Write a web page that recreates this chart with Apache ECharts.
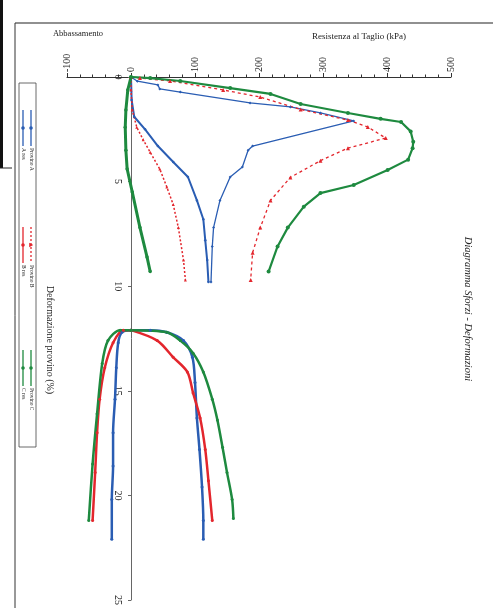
<!DOCTYPE html>
<html><head><meta charset="utf-8">
<script src="https://cdn.jsdelivr.net/npm/echarts@6/dist/echarts.min.js"></script>
<style>html,body{margin:0;padding:0;background:#fff}#c{width:493px;height:608px}</style>
</head><body><div id="c"></div><script>
// Each point: [Resistenza al Taglio (kPa), Deformazione provino (%)]
const provinoA_picco = [[0,0],[10,0.2],[42,0.38],[45,0.57],[77,0.72],[186,1.24],[249,1.43],[296,1.72],[348,2.1],[190,3.3],[183,3.5],[174,4.3],[155,4.78],[139,5.9],[129,7.2],[127,8.1],[125,9.8]];
const provinoA_interno = [[0,0],[1,1.1],[5,1.9],[22,2.5],[42,3.3],[66,4.06],[89,4.78],[103,5.9],[113,6.8],[116,7.8],[119,8.75],[121,9.8]];
const provinoB_picco = [[0,0],[14,0.05],[61,0.19],[144,0.62],[202,0.96],[265,1.55],[339,2.06],[370,2.39],[398,2.92],[339,3.4],[296,4.0],[249,4.8],[218,5.9],[202,7.2],[190,8.4],[187,9.7]];
const provinoB_interno = [[0,0],[0,0.62],[2,1.58],[9,2.4],[19,3.0],[30,3.6],[45,4.4],[56,5.26],[66,6.1],[74,7.2],[82,8.75],[85,9.7]];
const provinoC_picco = [[0,0],[30,0.05],[77,0.19],[155,0.53],[218,0.81],[265,1.29],[339,1.72],[390,2.0],[422,2.15],[437,2.6],[441,3.1],[440,3.4],[433,3.95],[401,4.45],[348,5.16],[296,5.55],[270,6.2],[245,7.2],[229,8.1],[215,9.3]];
const provinoC_interno = [[0,0],[-5,0.62],[-8,1.58],[-9,2.4],[-8,3.5],[-6,4.4],[2,5.5],[14,7.2],[25,8.6],[30,9.3]];
const resA_taglio = [[0,12.1],[30,12.1],[56,12.2],[82,12.6],[96,13.4],[100,14.6],[103,16.3],[107,17.8],[111,19.6],[113,21.2],[113,22.1]];
const resA_abbass = [[0,12.1],[-14,12.2],[-20,12.7],[-23,13.9],[-25,15.4],[-28,17.0],[-28,18.6],[-30,20.2],[-30,22.1]];
const resB_taglio = [[0,12.1],[41,12.6],[66,13.4],[88,14.1],[97,15.1],[108,16.3],[116,17.8],[121,19.3],[127,21.2]];
const resB_abbass = [[0,12.1],[-12,12.1],[-28,12.7],[-41,13.9],[-49,15.4],[-53,17.0],[-56,18.9],[-60,21.2]];
const resC_taglio = [[0,12.1],[56,12.2],[77,12.6],[97,13.2],[113,14.1],[127,15.4],[135,16.4],[143,17.7],[150,18.9],[158,20.2],[160,21.1]];
const resC_abbass = [[0,12.1],[-17,12.1],[-36,12.6],[-45,13.7],[-53,16.1],[-60,18.5],[-66,21.2]];
const kpaRange = [-100, 500];
const defRange = [0, 25];
const legendNames = ['Provino A','A res','Provino B','B res','Provino C','C res'];

const BLUE = '#2a5db3', RED = '#e3262d', GREEN = '#1e8a3f';
const SERIF = '"Liberation Serif","DejaVu Serif",serif';

function ser(name, data, color, o) {
  o = o || {};
  return {
    name: name, type: 'line', data: data, color: color,
    symbol: o.symbol || 'circle', symbolSize: o.size || 3,
    showSymbol: true,
    lineStyle: {color: color, width: o.width || 1.5, type: o.dash || 'solid'},
    itemStyle: {color: color},
    smooth: o.smooth || false,
    z: o.z || 3, animation: false
  };
}

const chart = echarts.init(document.getElementById('c'), null, {renderer: 'canvas'});
const rot = -Math.PI / 2;

function legendItem(lx, ly, color, dash, sym, label) {
  const items = [
    {type: 'line', shape: {x1: lx, y1: ly, x2: lx + 36, y2: ly}, style: {stroke: color, lineWidth: 1.3, lineDash: dash ? [2, 2] : null}},
  ];
  if (sym === 'tri') {
    items.push({type: 'polygon', shape: {points: [[lx + 18, ly - 2.2], [lx + 20.2, ly + 1.8], [lx + 15.8, ly + 1.8]]}, style: {fill: color}});
  } else {
    items.push({type: 'circle', shape: {cx: lx + 18, cy: ly, r: 1.8}, style: {fill: color}});
  }
  items.push({type: 'text', x: lx + 38, y: ly, style: {text: label, font: '5.5px ' + SERIF, fill: '#222', textVerticalAlign: 'middle', textAlign: 'left'}});
  return items;
}

const legendChildren = [{type: 'rect', shape: {x: 0, y: 0, width: 364, height: 17}, style: {fill: 'none', stroke: '#444', lineWidth: 0.8}}]
  .concat(legendItem(27, 5, BLUE, false, 'c', legendNames[0]))
  .concat(legendItem(27, 13, BLUE, false, 'c', legendNames[1]))
  .concat(legendItem(144, 5, RED, true, 'tri', legendNames[2]))
  .concat(legendItem(144, 13, RED, false, 'c', legendNames[3]))
  .concat(legendItem(267, 5, GREEN, false, 'c', legendNames[4]))
  .concat(legendItem(267, 13, GREEN, false, 'c', legendNames[5]));

chart.setOption({
  backgroundColor: '#fff',
  animation: false,
  grid: {left: 67, right: 42, top: 77, bottom: 8, containLabel: false},
  legend: {show: false},
  xAxis: {
    type: 'value', position: 'top', min: kpaRange[0], max: kpaRange[1], interval: 100,
    axisLine: {show: true, onZero: false, lineStyle: {color: '#333', width: 1}},
    axisTick: {show: true, inside: false, length: 4, lineStyle: {color: '#333'}},
    minorTick: {show: true, splitNumber: 5, length: 2.5, lineStyle: {color: '#333'}},
    splitLine: {show: false},
    axisLabel: {rotate: -90, fontSize: 10, fontFamily: SERIF, color: '#222', margin: 5}
  },
  yAxis: {
    type: 'value', inverse: true, min: defRange[0], max: defRange[1], interval: 5,
    position: 'left', offset: -64,
    axisLine: {show: true, onZero: false, lineStyle: {color: '#666', width: 1}},
    axisTick: {show: true, inside: false, length: 3, lineStyle: {color: '#666'}},
    splitLine: {show: false},
    axisLabel: {rotate: -90, fontSize: 10, fontFamily: SERIF, color: '#222', margin: 8}
  },
  series: [
    ser('Provino A', provinoA_picco, BLUE, {symbol: 'diamond', size: 3, width: 1.3}),
    ser('Provino A', provinoA_interno, BLUE, {size: 2.5, width: 2}),
    ser('Provino B', provinoB_picco, RED, {symbol: 'triangle', size: 4, width: 1.3, dash: [3, 3]}),
    ser('Provino B', provinoB_interno, RED, {symbol: 'triangle', size: 3, width: 1.5, dash: [2, 2]}),
    ser('Provino C', provinoC_picco, GREEN, {size: 4, width: 2.2}),
    ser('Provino C', provinoC_interno, GREEN, {size: 3.5, width: 3}),
    ser('A res', resA_taglio, BLUE, {size: 3, width: 2.5, smooth: 0.3}),
    ser('A res', resA_abbass, BLUE, {size: 3, width: 2.5, smooth: 0.3}),
    ser('B res', resB_taglio, RED, {size: 3, width: 2.5, smooth: 0.3}),
    ser('B res', resB_abbass, RED, {size: 3, width: 2.5, smooth: 0.3}),
    ser('C res', resC_taglio, GREEN, {size: 3, width: 2.5, smooth: 0.3}),
    ser('C res', resC_abbass, GREEN, {size: 3, width: 2.5, smooth: 0.3})
  ],
  graphic: [
    {type: 'line', shape: {x1: 15, y1: 23, x2: 493, y2: 23}, style: {stroke: '#222', lineWidth: 1.2}},
    {type: 'line', shape: {x1: 15, y1: 23, x2: 15, y2: 608}, style: {stroke: '#333', lineWidth: 1}},
    {type: 'rect', shape: {x: 0, y: 0, width: 3, height: 168}, style: {fill: '#111'}},
    {type: 'line', shape: {x1: 0, y1: 168, x2: 12, y2: 168}, style: {stroke: '#222', lineWidth: 1}},
    {type: 'text', x: 78, y: 34, style: {text: 'Abbassamento', font: '8.5px ' + SERIF, fill: '#222', textAlign: 'center', textVerticalAlign: 'middle'}},
    {type: 'text', x: 359, y: 37, style: {text: 'Resistenza al Taglio (kPa)', font: '9px ' + SERIF, fill: '#222', textAlign: 'center', textVerticalAlign: 'middle'}},
    {type: 'text', x: 468, y: 309, rotation: rot, style: {text: 'Diagramma Sforzi - Deformazioni', font: 'italic 10.5px ' + SERIF, fill: '#222', textAlign: 'center', textVerticalAlign: 'middle'}},
    {type: 'text', x: 50, y: 340, rotation: rot, style: {text: 'Deformazione provino (%)', font: '10px ' + SERIF, fill: '#222', textAlign: 'center', textVerticalAlign: 'middle'}},
    {type: 'group', x: 36, y: 83, rotation: rot, children: legendChildren}
  ]
});
</script></body></html>
